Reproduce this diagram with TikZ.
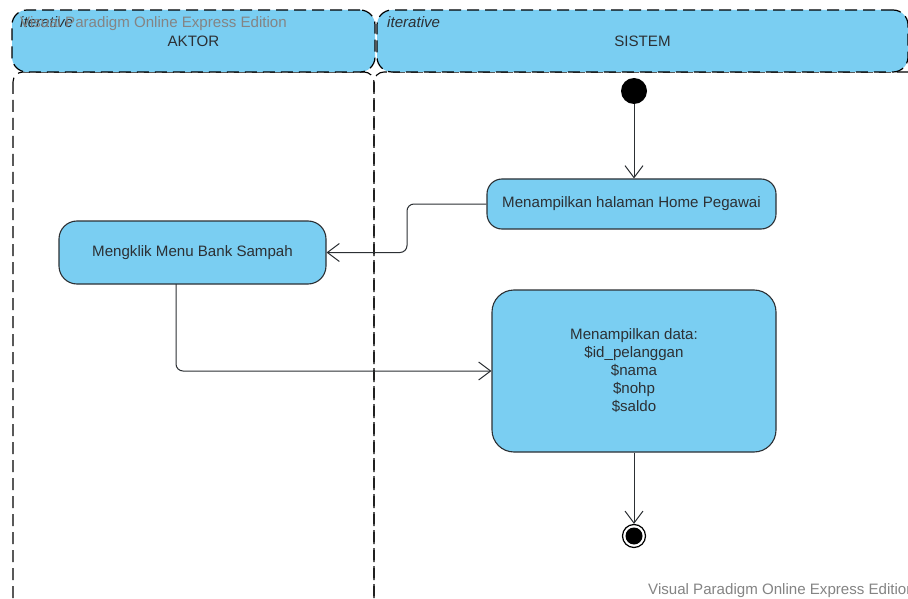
\documentclass[tikz,border=0pt]{standalone}
\usepackage{fontspec}
\setmainfont{Liberation Sans}
\usetikzlibrary{arrows.meta}
\definecolor{actfill}{RGB}{122,206,242}
\definecolor{inkgray}{RGB}{44,48,52}
\definecolor{markgray}{RGB}{132,132,132}
\tikzset{
  lanehead/.style={draw=black, fill=actfill, line width=1.2pt, dash pattern=on 12pt off 6pt,
    rounded corners=15pt, inner sep=0pt, font=\fontsize{15.1}{18}\selectfont, text=inkgray},
  lanebody/.style={draw=black, line width=1.1pt, dash pattern=on 12pt off 6pt, rounded corners=10pt},
  action/.style={draw=inkgray, fill=actfill, line width=1.1pt, inner sep=0pt, align=center,
    font=\fontsize{15.1}{18}\selectfont, text=inkgray},
  flow/.style={draw=inkgray, line width=1pt, rounded corners=7pt,
    -{Straight Barb[length=12pt,width=18pt,line width=1pt]}},
  tag/.style={font=\fontsize{15.1}{18}\selectfont\itshape, text=inkgray, inner sep=0pt, anchor=base west},
  stamp/.style={font=\fontsize{15.1}{18}\selectfont, text=markgray, inner sep=0pt, anchor=base west}
}
\begin{document}
\begin{tikzpicture}[x=1pt,y=-1pt]
  \clip (0,0) rectangle (908,599);
  \fill[white] (0,0) rectangle (908,599);

  % swimlane bodies
  \draw[lanebody] (13,72) rectangle (374,640);
  \draw[lanebody] (374,72) rectangle (940,640);

  % swimlane headers
  \node[lanehead, minimum width=363pt, minimum height=62pt] (aktor) at (193.5,41) {AKTOR};
  \node[lanehead, minimum width=531pt, minimum height=62pt] (sistem) at (642.5,41) {SISTEM};
  \node[tag] (itA) at (20,28) {iterative};
  \node[tag] (itS) at (387,28) {iterative};

  % control nodes
  \node[circle, fill=black, minimum size=26pt, inner sep=0pt] (start) at (634,91) {};
  \node[circle, draw=black, line width=1.2pt, fill=white, minimum size=23pt, inner sep=0pt] (stop) at (634,536) {};
  \fill[black] (stop.center) circle (8.5pt);

  % actions
  \node[action, rounded corners=15pt, minimum width=289pt, minimum height=50pt] (home) at (631.5,204)
    {Menampilkan halaman Home Pegawai};
  \node[action, rounded corners=18pt, minimum width=267pt, minimum height=63pt] (klik) at (192.5,252.5)
    {Mengklik Menu Bank Sampah};
  \node[action, rounded corners=22pt, minimum width=284pt, minimum height=162pt] (data) at (634,371)
    {Menampilkan data:\\\$id\_pelanggan\\\$nama\\\$nohp\\\$saldo};

  % control flows
  \draw[flow] (start) -- (start |- home.north);
  \draw[flow] (home.west) -| (407,228) |- (klik.east);
  \draw[flow] (176,284) |- (data.west);
  \draw[flow] (data.south -| stop) -- (stop.north);

  % editor stamps
  \node[stamp] (stampT) at (20,28) {Visual Paradigm Online Express Edition};
  \node[stamp] (stampB) at (648,594) {Visual Paradigm Online Express Edition};
\end{tikzpicture}
\end{document}
